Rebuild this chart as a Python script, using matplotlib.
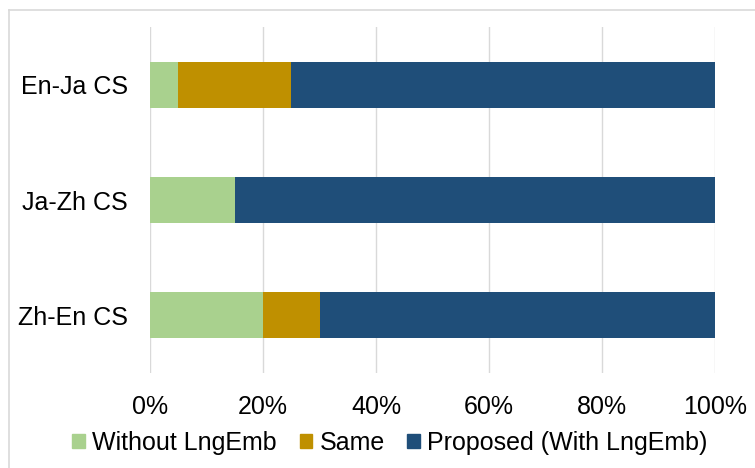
import numpy as np
from matplotlib import pyplot as plt
from matplotlib.lines import Line2D

plt.rcParams['font.family'] = ['Liberation Sans', 'DejaVu Sans']

categories = ['Zh-En CS', 'Ja-Zh CS', 'En-Ja CS']
without_lngemb = [20, 15, 5]
same = [10, 0, 20]
proposed = [70, 85, 75]
series_names = ['Without LngEmb', 'Same', 'Proposed (With LngEmb)']
colors = ['#A9D18E', '#BF9000', '#1F4E79']
xticks = [0, 20, 40, 60, 80, 100]

W, H = 755, 468
fig = plt.figure(figsize=(W / 100, H / 100), dpi=100)
ax = fig.add_axes([150 / W, (H - 373) / H, (715 - 150) / W, (373 - 27) / H])

y = np.arange(len(categories))
left = np.zeros(len(categories))
for vals, name, c in zip([without_lngemb, same, proposed], series_names, colors):
    ax.barh(y, vals, left=left, height=0.4, color=c, label=name, zorder=3)
    left = left + np.array(vals)

ax.set_xlim(0, 100)
ax.set_ylim(-0.5, 2.5)
ax.set_xticks(xticks)
ax.set_xticklabels([f'{t}%' for t in xticks])
ax.set_yticks(y)
ax.set_yticklabels(categories)
ax.tick_params(axis='both', length=0, labelsize=18, colors='black')
ax.tick_params(axis='x', pad=16)
ax.tick_params(axis='y', pad=16)
ax.xaxis.grid(True, color='#D9D9D9', linewidth=1, zorder=0)
for s in ax.spines.values():
    s.set_visible(False)

# outer chart border (top and left visible only)
fig.add_artist(Line2D([9 / W, 1], [1 - 10 / H, 1 - 10 / H], transform=fig.transFigure, color='#D9D9D9', linewidth=1.2))
fig.add_artist(Line2D([9 / W, 9 / W], [0, 1 - 10 / H], transform=fig.transFigure, color='#D9D9D9', linewidth=1.2))

handles = [plt.Rectangle((0, 0), 1, 1, color=c) for c in colors]
fig.legend(handles, series_names, loc='center', bbox_to_anchor=(390 / W, 1 - 443 / H), ncol=3,
           frameon=False, fontsize=18, handlelength=0.5, handleheight=0.5,
           handletextpad=0.3, columnspacing=0.9)

fig.savefig('out.png', dpi=100)
